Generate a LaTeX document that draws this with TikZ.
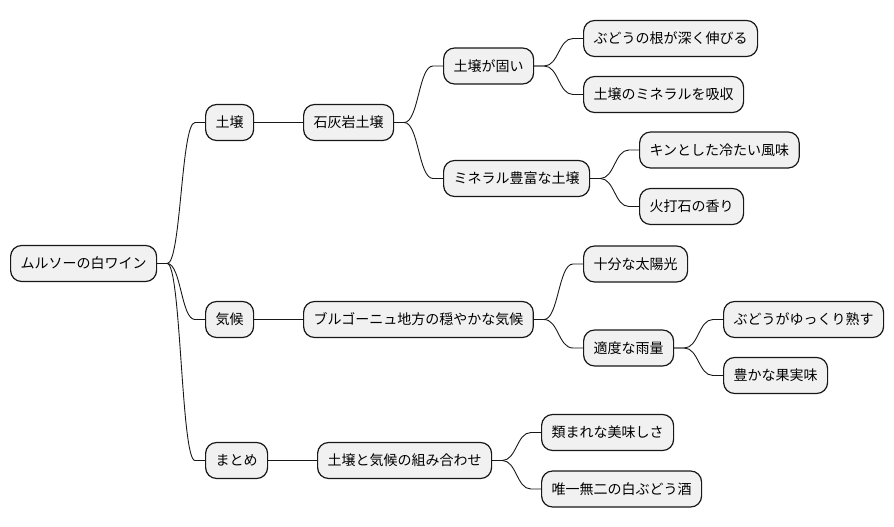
\documentclass[tikz,border=0pt]{standalone}
\usepackage{fontspec}
\newfontfamily\jpfont{Noto Sans CJK JP}
\usetikzlibrary{calc}
\definecolor{boxfill}{HTML}{F1F1F1}
\definecolor{boxline}{HTML}{181818}
\tikzset{
  mmbox/.style={draw=boxline, line width=1.2pt, fill=boxfill, rounded corners=11pt,
    anchor=west, minimum height=36pt, inner xsep=10pt, inner ysep=0pt,
    text height=12pt, text depth=2pt, font=\jpfont\fontsize{14}{16}\selectfont},
  mmlink/.style={draw=boxline, line width=0.9pt,
    to path={let \p1=(\tikztostart), \p2=(\tikztotarget), \n1={(\x2-\x1-20pt)/2} in
      (\p1) -- ++(10pt,0) .. controls +(\n1,0) and +(-\n1,0) .. (\x2-10pt,\y2) -- (\p2)}}
}
\begin{document}
\begin{tikzpicture}[x=1pt,y=-1pt]
\useasboundingbox (0,0) rectangle (894,527);
\node[mmbox] (root) at (10,263.5) {ムルソーの白ワイン};
\node[mmbox] (t1) at (205,122.5) {土壌};
\node[mmbox] (k1) at (205,319.5) {気候};
\node[mmbox] (m1) at (205,460.5) {まとめ};
\node[mmbox] (t2) at (303,122.5) {石灰岩土壌};
\node[mmbox] (t3a) at (443,66) {土壌が固い};
\node[mmbox] (t3b) at (443,178.5) {ミネラル豊富な土壌};
\node[mmbox] (t4a) at (583,38.5) {ぶどうの根が深く伸びる};
\node[mmbox] (t4b) at (583,94.5) {土壌のミネラルを吸収};
\node[mmbox] (t4c) at (639,150) {キンとした冷たい風味};
\node[mmbox] (t4d) at (639,206.5) {火打石の香り};
\node[mmbox] (k2) at (303,319.5) {ブルゴーニュ地方の穏やかな気候};
\node[mmbox] (k3a) at (583,264) {十分な太陽光};
\node[mmbox] (k3b) at (583,348) {適度な雨量};
\node[mmbox] (k4a) at (723,319.5) {ぶどうがゆっくり熟す};
\node[mmbox] (k4b) at (723,375.5) {豊かな果実味};
\node[mmbox] (m2) at (317,460.5) {土壌と気候の組み合わせ};
\node[mmbox] (m3a) at (541,432.5) {類まれな美味しさ};
\node[mmbox] (m3b) at (541,489) {唯一無二の白ぶどう酒};
\foreach \a/\b in {root/t1,root/k1,root/m1,t1/t2,t2/t3a,t2/t3b,t3a/t4a,t3a/t4b,t3b/t4c,t3b/t4d,
  k1/k2,k2/k3a,k2/k3b,k3b/k4a,k3b/k4b,m1/m2,m2/m3a,m2/m3b}
  \draw[mmlink] (\a.east) to (\b.west);
\end{tikzpicture}
\end{document}
